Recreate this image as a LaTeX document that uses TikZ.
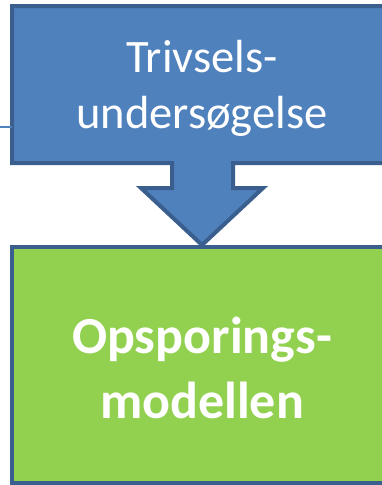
\documentclass[tikz,border=0pt]{standalone}
\usepackage{fontspec}
\setmainfont{Carlito}
\definecolor{blfill}{HTML}{4F81BD}
\definecolor{blline}{HTML}{3A5F8E}
\definecolor{grfill}{HTML}{92D050}
\begin{document}
\begin{tikzpicture}[x=1pt,y=-1pt,
  shapeline/.style={draw=blline,line width=4pt,line join=miter},
  lbl/.style={text=white,align=center,inner sep=0pt}]
\useasboundingbox (0,0) rectangle (382,485);
\clip (0,0) rectangle (382,485);
% green box
\path[shapeline,fill=grfill] (12,247) rectangle (392,483);
% blue callout
\path[shapeline,fill=blfill] (12,6) -- (392,6) -- (392,163) -- (233,163) -- (233,188) -- (263,188) -- (202,245) -- (141,188) -- (172,188) -- (172,163) -- (12,163) -- cycle;
% incoming connector
\coordinate (cin) at (12,127);
\coordinate (cout) at (0,127);
\draw[blfill,line width=1.5pt] (cout) -- (cin);
\node[lbl,font=\fontsize{46.5}{56}\selectfont] (top) at (202,88) {Trivsels-\\undersøgelse};
\node[lbl,font=\fontsize{52}{65}\selectfont\bfseries] (bot) at (202,368) {Opsporings-\\modellen};
\end{tikzpicture}
\end{document}
